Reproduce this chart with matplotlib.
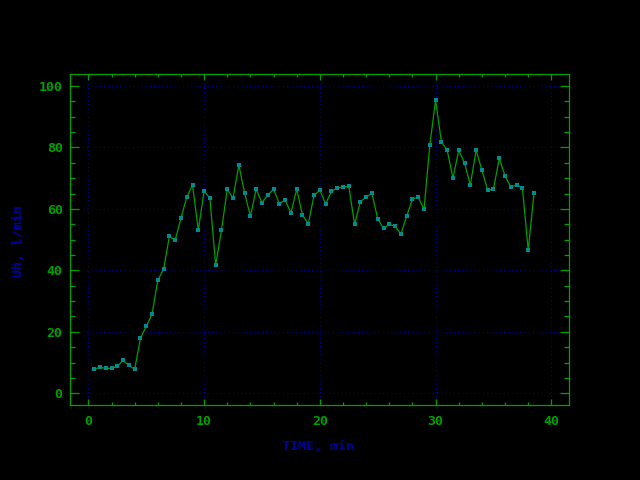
import matplotlib
matplotlib.use("Agg")
import matplotlib.pyplot as plt
from matplotlib.ticker import MultipleLocator

# measured every half minute
time_min = [0.5, 1.0, 1.5, 2.0, 2.5, 3.0, 3.5, 4.0, 4.5, 5.0,
            5.5, 6.0, 6.5, 7.0, 7.5, 8.0, 8.5, 9.0, 9.5, 10.0,
            10.5, 11.0, 11.5, 12.0, 12.5, 13.0, 13.5, 14.0, 14.5, 15.0,
            15.5, 16.0, 16.5, 17.0, 17.5, 18.0, 18.5, 19.0, 19.5, 20.0,
            20.5, 21.0, 21.5, 22.0, 22.5, 23.0, 23.5, 24.0, 24.5, 25.0,
            25.5, 26.0, 26.5, 27.0, 27.5, 28.0, 28.5, 29.0, 29.5, 30.0,
            30.5, 31.0, 31.5, 32.0, 32.5, 33.0, 33.5, 34.0, 34.5, 35.0,
            35.5, 36.0, 36.5, 37.0, 37.5, 38.0, 38.5]
uh = [7.8, 8.5, 8.1, 8.1, 8.8, 10.7, 9.1, 7.8, 17.9, 21.8,
      25.7, 36.8, 40.4, 51.1, 49.8, 57.0, 63.8, 67.8, 53.1, 65.8,
      63.5, 41.7, 53.1, 66.4, 63.5, 74.3, 65.1, 57.7, 66.4, 62.0,
      64.5, 66.4, 61.6, 62.9, 58.7, 66.4, 58.0, 55.1, 64.5, 66.1,
      61.6, 65.7, 66.8, 67.1, 67.4, 55.0, 62.4, 63.8, 65.1, 56.7,
      53.7, 55.0, 54.3, 51.8, 57.7, 63.2, 63.8, 59.9, 80.8, 95.4,
      81.8, 79.1, 70.0, 79.1, 74.9, 67.8, 79.1, 72.6, 66.1, 66.4,
      76.5, 70.7, 67.1, 67.8, 66.8, 46.6, 65.1]

green = "#00a000"
blue = "#0000a0"
teal = "#008c8c"

plt.rcParams["font.family"] = "DejaVu Sans Mono"
plt.rcParams["font.weight"] = "bold"

fig = plt.figure(figsize=(6.4, 4.8), dpi=100, facecolor="black")
ax = fig.add_axes([70.3 / 640, 1 - 405 / 480, 499 / 640, 331 / 480])
ax.set_facecolor("black")

ax.plot(time_min, uh, color=green, lw=0.9, marker="s", ms=3,
        mfc=teal, mec=teal, mew=0, zorder=3)

ax.set_xlim(-1.56, 41.55)
ax.set_ylim(-3.8, 103.9)
ax.xaxis.set_major_locator(MultipleLocator(10))
ax.xaxis.set_minor_locator(MultipleLocator(2))
ax.yaxis.set_major_locator(MultipleLocator(20))
ax.yaxis.set_minor_locator(MultipleLocator(5))

# dotted grid
ax.grid(True, which="major", color=blue, lw=0.75, linestyle=(0, (1, 3)))

for s in ax.spines.values():
    s.set_color(green)
    s.set_linewidth(0.9)

ax.tick_params(axis="both", which="both", direction="in", color=green,
               top=True, right=True, width=0.9, labelcolor=green,
               labelsize=9.5)
ax.tick_params(axis="x", which="major", length=4.3, pad=7)
ax.tick_params(axis="x", which="minor", length=2.2)
ax.tick_params(axis="y", which="major", length=6.5, pad=5.5)
ax.tick_params(axis="y", which="minor", length=3.6)

fig.text(318 / 640, 1 - 446 / 480, "TIME, min", color=blue, fontsize=9.5,
         ha="center", va="center")
fig.text(18 / 640, 1 - 241 / 480, "Uh, l/min", color=blue, fontsize=9.5,
         ha="center", va="center", rotation=90)

fig.savefig("out.png", dpi=100, facecolor="black")
